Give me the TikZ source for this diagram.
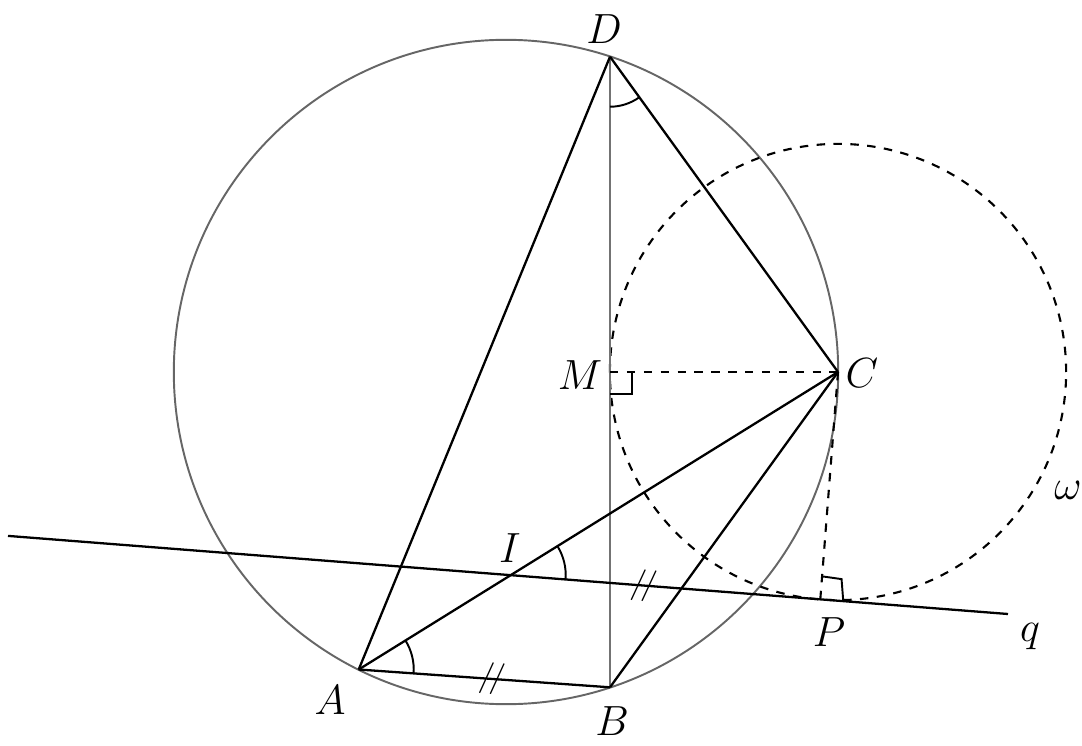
\documentclass[tikz,border=0pt]{standalone}
\usetikzlibrary{angles,calc,intersections}
\begin{document}
\begin{tikzpicture}[x=0.01cm,y=0.01cm,
  every node/.style={font=\fontsize{12.5}{15}\selectfont},
  seg/.style={line width=0.65pt,black},
  greyline/.style={line width=0.7pt,black!55},
  circ/.style={line width=0.55pt,black!60},
  dashline/.style={line width=0.6pt,black,dash pattern=on 2.4pt off 2.4pt},
  thinmark/.style={line width=0.55pt,black},
  eqtick/.style={sloped,inner sep=0pt,font=\fontsize{9}{10}\selectfont}]
\useasboundingbox (0,0) rectangle (1082,745);
% points
\coordinate (O) at (506,373);
\coordinate (D) at (610,688.3);
\coordinate (B) at (610,57.7);
\coordinate (M) at (610,373);
\coordinate (C) at (838,373);
\coordinate (A) at (358.7,75.5);
\coordinate (P) at (820.3,145.7);
\coordinate (Q1) at (8,209.1);
\coordinate (Q2) at (1008,131);
\path[name path=ac] (A) -- (C);
\path[name path=qq] (Q1) -- (Q2);
\path[name intersections={of=ac and qq,by=I}];
% circles
\draw[circ] (O) circle[radius=3.32cm];
\draw[dashline] (C) circle[radius=2.28cm];
% lines
\draw[greyline] (D) -- (B);
\draw[seg] (A) -- (D);
\draw[seg] (D) -- (C);
\draw[seg] (A) -- (C);
\draw[seg] (B) -- (C);
\draw[seg] (A) -- (B);
\draw[seg] (Q1) -- (Q2);
\draw[dashline] (M) -- (C);
\draw[dashline] (C) -- (P);
% right angles
\draw[thinmark] ($(M)+(0,-22)$) -- ++(22,0) -- ++(0,22);
\draw[thinmark] ($(P)!0.23cm!(Q2)$) -- ($(P)!0.23cm!(Q2)+(-1.7,22)$) -- ($(P)!0.23cm!(C)$);
% angle marks
\pic[draw,thinmark,angle radius=0.5cm] {angle=B--D--C};
\pic[draw,thinmark,angle radius=0.55cm] {angle=Q2--I--C};
\pic[draw,thinmark,angle radius=0.55cm] {angle=B--A--C};
% equal marks
\path (A) -- (B) node[eqtick,pos=0.53] (t1) {$/\!/$};
\path (I) -- (P) node[eqtick,pos=0.43] (t2) {$/\!/$};
% labels
\node (lD) at (604,716) {$D$};
\node (lM) at (580,370) {$M$};
\node (lC) at (862,372) {$C$};
\node (lI) at (510,197) {$I$};
\node (lA) at (330,45) {$A$};
\node (lB) at (612,24) {$B$};
\node (lP) at (829,113) {$P$};
\node (lq) at (1030,108) {$q$};
\node (lw) at (1068,255) {$\omega$};
\end{tikzpicture}
\end{document}
